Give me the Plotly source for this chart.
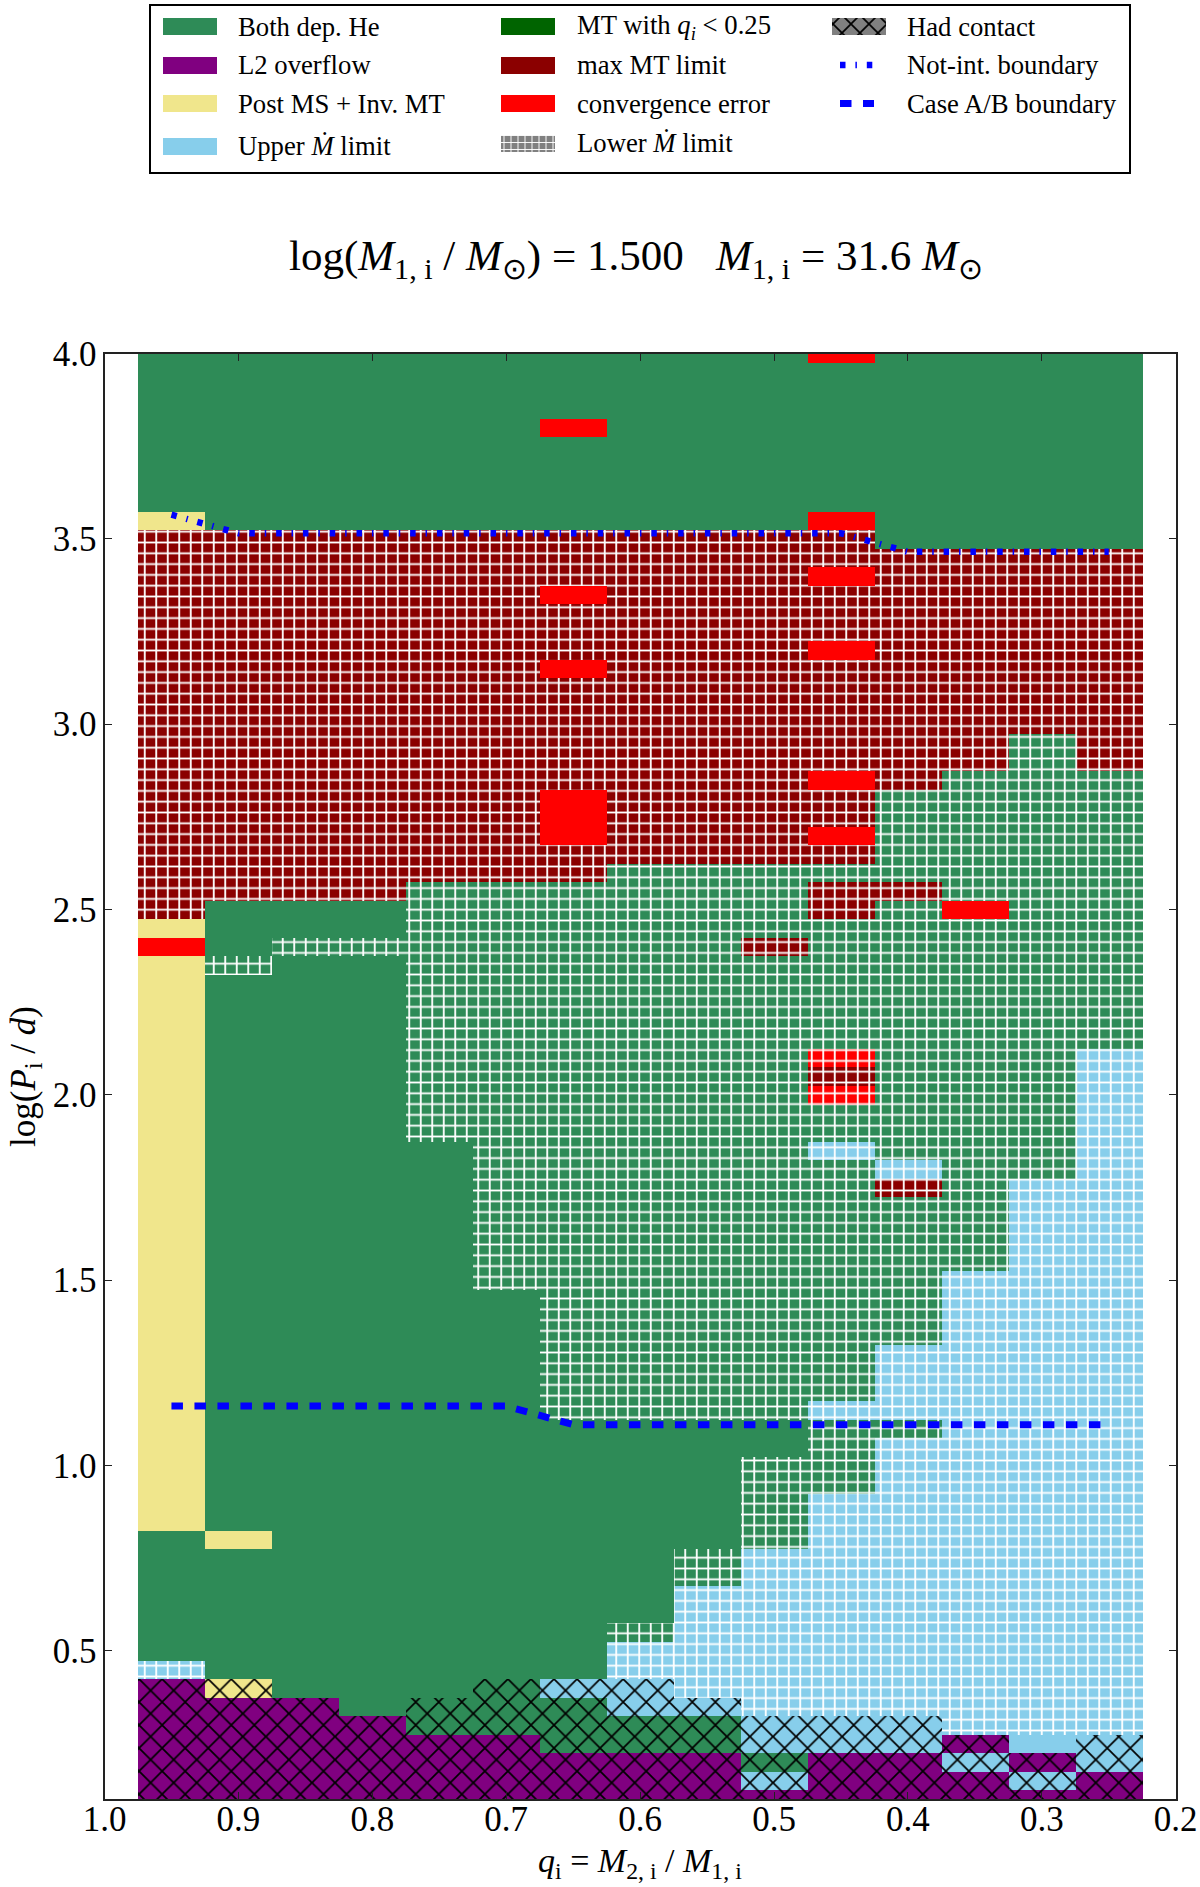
import plotly.graph_objects as go

# ---------- data ----------
Q_VALUES = [0.95, 0.90, 0.85, 0.80, 0.75, 0.70, 0.65, 0.60, 0.55, 0.50, 0.45, 0.40, 0.35, 0.30, 0.25]
LOGP_BOTTOM = 0.1
# each column: (class, upper logP edge). class = colour letter + optional h (fine hatch) / x (contact)
COL_095 = [("Px",0.425),("Bh",0.475),("G",0.825),("Y",2.375),("R",2.425),("Y",2.475),("Mh",3.525),("Y",3.575),("G",4.0)]
COL_090 = [("Px",0.375),("Yx",0.425),("G",0.775),("Y",0.825),("G",2.325),("Gh",2.375),("G",2.525),("Mh",3.525),("G",4.0)]
COL_085 = [("Px",0.375),("G",2.375),("Gh",2.425),("G",2.525),("Mh",3.525),("G",4.0)]
COL_080 = [("Px",0.325),("G",2.375),("Gh",2.425),("G",2.525),("Mh",3.525),("G",4.0)]
COL_075 = [("Px",0.275),("Gx",0.375),("G",1.875),("Gh",2.575),("Mh",3.525),("G",4.0)]
COL_070 = [("Px",0.275),("Gx",0.425),("G",1.475),("Gh",2.575),("Mh",3.525),("G",4.0)]
COL_065 = [("Px",0.225),("Gx",0.375),("Bx",0.425),("G",1.125),("Gh",2.575),("Mh",2.675),("R",2.825),("Mh",3.125),
           ("R",3.175),("Mh",3.325),("R",3.375),("Mh",3.525),("G",3.775),("R",3.825),("G",4.0)]
COL_060 = [("Px",0.225),("Gx",0.325),("Bx",0.425),("Bh",0.525),("Gh",0.575),("G",1.125),("Gh",2.625),("Mh",3.525),("G",4.0)]
COL_055 = [("Px",0.225),("Gx",0.325),("Bx",0.375),("Bh",0.675),("Gh",0.775),("G",1.125),("Gh",2.625),("Mh",3.525),("G",4.0)]
COL_050 = [("Px",0.125),("Bx",0.175),("Gx",0.225),("Bx",0.325),("Bh",0.775),("Gh",1.025),("G",1.125),("Gh",2.375),
           ("Mh",2.425),("Gh",2.625),("Mh",3.525),("G",4.0)]
COL_045 = [("Px",0.225),("Bx",0.325),("Bh",0.925),("Gh",1.125),("Bh",1.175),("Gh",1.825),("Bh",1.875),("Gh",1.975),
           ("Rh",2.025),("Mh",2.075),("Rh",2.125),("Gh",2.475),("Mh",2.575),("Gh",2.625),("Mh",2.675),("R",2.725),
           ("Mh",2.825),("R",2.875),("Mh",3.175),("R",3.225),("Mh",3.375),("R",3.425),("Mh",3.525),("R",3.575),
           ("G",3.975),("R",4.0)]
COL_040 = [("Px",0.225),("Bx",0.325),("Bh",1.075),("Gh",1.125),("Bh",1.325),("Gh",1.725),("Mh",1.775),("Bh",1.825),
           ("Gh",2.525),("Mh",2.575),("Gh",2.825),("Mh",3.475),("G",4.0)]
COL_035 = [("Px",0.175),("Bx",0.225),("Px",0.275),("Bh",1.525),("Gh",2.475),("R",2.525),("Gh",2.875),("Mh",3.475),("G",4.0)]
COL_030 = [("Px",0.125),("Bx",0.175),("Px",0.225),("B",0.275),("Bh",1.775),("Gh",2.975),("Mh",3.475),("G",4.0)]
COL_025 = [("Px",0.175),("Bx",0.275),("Bh",2.125),("Gh",2.875),("Mh",3.475),("G",4.0)]
COLUMNS = [COL_095, COL_090, COL_085, COL_080, COL_075, COL_070, COL_065, COL_060,
           COL_055, COL_050, COL_045, COL_040, COL_035, COL_030, COL_025]

NOT_INT_LOGP = [3.565, 3.515, 3.515, 3.515, 3.515, 3.515, 3.515, 3.515, 3.515, 3.515, 3.515, 3.465, 3.465, 3.465, 3.465]
CASE_AB_LOGP = [1.16, 1.16, 1.16, 1.16, 1.16, 1.16, 1.11, 1.11, 1.11, 1.11, 1.11, 1.11, 1.11, 1.11, 1.11]

X_TICKS = [1.0, 0.9, 0.8, 0.7, 0.6, 0.5, 0.4, 0.3, 0.2]
Y_TICKS = [0.5, 1.0, 1.5, 2.0, 2.5, 3.0, 3.5, 4.0]

COLORS = {"G": "#2E8B57", "P": "#800080", "Y": "#F0E68C", "B": "#87CEEB",
          "D": "#006400", "M": "#8B0000", "R": "#FF0000", "N": "#808080"}
FONT = "Liberation Serif"
W, H = 1200, 1887
CLEAR = "rgba(0,0,0,0)"

fig = go.Figure()
COL_WIDTH = 0.05

# gather cells
cells = {c: ([], [], []) for c in "GPYBMR"}
hatch = ([], [], [])
cross = ([], [], [])
for q, col in zip(Q_VALUES, COLUMNS):
    lo = LOGP_BOTTOM
    for kind, hi in col:
        for store in [cells[kind[0]]] + ([hatch] if kind.endswith("h") else []) + ([cross] if kind.endswith("x") else []):
            store[0].append(q); store[1].append(lo); store[2].append(hi - lo)
        lo = hi

for c, (xs, bs, hs) in cells.items():
    fig.add_trace(go.Bar(x=xs, base=bs, y=hs, width=COL_WIDTH, marker=dict(color=COLORS[c], line=dict(width=0)),
                         showlegend=False, hoverinfo="skip"))
for shape, size, sol in [("-", 10.8, 0.17), ("|", 11.5, 0.16)]:
    fig.add_trace(go.Bar(x=hatch[0], base=hatch[1], y=hatch[2], width=COL_WIDTH,
                         marker=dict(color=CLEAR, line=dict(width=0),
                                     pattern=dict(shape=shape, size=size, solidity=sol, fgcolor="white", fgopacity=1,
                                                  bgcolor=CLEAR, fillmode="overlay")),
                         showlegend=False, hoverinfo="skip"))
fig.add_trace(go.Bar(x=cross[0], base=cross[1], y=cross[2], width=COL_WIDTH,
                     marker=dict(color=CLEAR, line=dict(width=0),
                                 pattern=dict(shape="x", size=16.3, solidity=0.2, fgcolor="black", fgopacity=1,
                                              bgcolor=CLEAR, fillmode="overlay")),
                     showlegend=False, hoverinfo="skip"))

NOT_INT_DASH = "5.5px,9.9px,1.5px,9.9px"
CASE_AB_DASH = "11.5px,11.5px"
fig.add_trace(go.Scatter(x=Q_VALUES, y=NOT_INT_LOGP, mode="lines", line=dict(color="#0000FF", width=6.5, dash=NOT_INT_DASH),
                         showlegend=False, hoverinfo="skip"))
fig.add_trace(go.Scatter(x=Q_VALUES, y=CASE_AB_LOGP, mode="lines", line=dict(color="#0000FF", width=7, dash=CASE_AB_DASH),
                         showlegend=False, hoverinfo="skip"))

# ---------- legend panel (own axes in page pixels) ----------
LEG_X0, LEG_X1, LEG_Y0, LEG_Y1 = 150.5, 1129, 6, 172
SW_W, SW_H = 54, 17
SWATCH_X = [189, 527.5, 858.5]
TEXT_X = [236, 574.5, 905]
LEG_LINE_X = [840, 874]
LEG_SIZE = 26.7
ROW_Y = [26.5, 65, 103.5, 146, 143]
M = "<i>M</i>"
MDOT = "<i>M\u0307</i>"
LEG_ITEMS = [
    (0, ROW_Y[0], "G", "Both dep. He"), (0, ROW_Y[1], "P", "L2 overflow"),
    (0, ROW_Y[2], "Y", "Post MS + Inv. MT"), (0, ROW_Y[3], "B", f"Upper {MDOT} limit"),
    (1, ROW_Y[0], "D", "MT with <i>q<sub>i</sub></i> &lt; 0.25"), (1, ROW_Y[1], "M", "max MT limit"),
    (1, ROW_Y[2], "R", "convergence error"),
]
for col, y, c, label in LEG_ITEMS:
    fig.add_trace(go.Bar(x=[SWATCH_X[col]], base=[y - SW_H / 2], y=[SW_H], width=SW_W, xaxis="x2", yaxis="y2",
                         marker=dict(color=COLORS[c], line=dict(width=0)), showlegend=False, hoverinfo="skip"))
    fig.add_annotation(x=TEXT_X[col], y=y, xref="x2", yref="y2", text=label, showarrow=False, xanchor="left",
                       font=dict(family=FONT, size=LEG_SIZE, color="black"))
fig.add_trace(go.Bar(x=[SWATCH_X[1]], base=[ROW_Y[4] - SW_H / 2], y=[SW_H], width=SW_W, xaxis="x2", yaxis="y2",
                     marker=dict(color=COLORS["N"], line=dict(width=0),
                                 pattern=dict(shape="+", size=7, solidity=0.25, fgcolor="white", fgopacity=1,
                                              bgcolor=COLORS["N"], fillmode="overlay")),
                     showlegend=False, hoverinfo="skip"))
fig.add_annotation(x=TEXT_X[1], y=ROW_Y[4], xref="x2", yref="y2", text=f"Lower {MDOT} limit", showarrow=False, xanchor="left",
                   font=dict(family=FONT, size=LEG_SIZE, color="black"))
fig.add_trace(go.Bar(x=[SWATCH_X[2]], base=[ROW_Y[0] - SW_H / 2], y=[SW_H], width=SW_W, xaxis="x2", yaxis="y2",
                     marker=dict(color=COLORS["N"], line=dict(width=0),
                                 pattern=dict(shape="x", size=12.7, solidity=0.25, fgcolor="black", fgopacity=1,
                                              bgcolor=COLORS["N"], fillmode="overlay")),
                     showlegend=False, hoverinfo="skip"))
fig.add_annotation(x=TEXT_X[2], y=ROW_Y[0], xref="x2", yref="y2", text="Had contact", showarrow=False, xanchor="left",
                   font=dict(family=FONT, size=LEG_SIZE, color="black"))
for y, dash, label, lw in [(ROW_Y[1], NOT_INT_DASH, "Not-int. boundary", 6.5), (ROW_Y[2], CASE_AB_DASH, "Case A/B boundary", 7)]:
    fig.add_trace(go.Scatter(x=LEG_LINE_X, y=[y, y], mode="lines", xaxis="x2", yaxis="y2",
                             line=dict(color="#0000FF", width=lw, dash=dash), showlegend=False, hoverinfo="skip"))
    fig.add_annotation(x=TEXT_X[2], y=y, xref="x2", yref="y2", text=label, showarrow=False, xanchor="left",
                       font=dict(family=FONT, size=LEG_SIZE, color="black"))

# ---------- text outside the panels ----------
TITLE = (f"log({M}<sub>1, i</sub> / {M}<sub>\u2299</sub>) = 1.500 &#160;&#160;{M}<sub>1, i</sub> = 31.6 {M}<sub>\u2299</sub>")
fig.add_annotation(x=636 / W, y=1 - 259 / H, xref="paper", yref="paper", text=TITLE, showarrow=False,
                   xanchor="center", yanchor="middle", font=dict(family=FONT, size=43, color="black"))
fig.add_annotation(x=640 / W, y=1 - 1863 / H, xref="paper", yref="paper", showarrow=False,
                   xanchor="center", yanchor="middle",
                   text=f"<i>q</i><sub>i</sub> = {M}<sub>2, i</sub> / {M}<sub>1, i</sub>",
                   font=dict(family=FONT, size=34, color="black"))
fig.add_annotation(x=25 / W, y=1 - 1077 / H, xref="paper", yref="paper", showarrow=False, textangle=-90,
                   xanchor="center", yanchor="middle",
                   text="log(<i>P</i><sub>i</sub> / <i>d</i>)", font=dict(family=FONT, size=35, color="black"))

axis_common = dict(showgrid=False, zeroline=False, showline=True, linecolor="#222222", linewidth=2,
                   mirror="ticks", ticks="inside", ticklen=7, tickwidth=1.2, tickcolor="#222222",
                   tickfont=dict(family=FONT, size=35, color="black"))
fig.update_layout(
    width=W, height=H, margin=dict(l=0, r=0, t=0, b=0, autoexpand=False), paper_bgcolor="white", plot_bgcolor="white",
    barmode="overlay", bargap=0, showlegend=False,
    xaxis=dict(domain=[104.5 / W, 1175.7 / W], range=[1.0, 0.2], tickmode="array", tickvals=X_TICKS,
               ticktext=[f"{v:.1f}" for v in X_TICKS], automargin=False, ticklabelstandoff=-12, **axis_common),
    yaxis=dict(domain=[1 - 1799 / H, 1 - 353.5 / H], range=[0.1, 4.0], tickmode="array", tickvals=Y_TICKS,
               ticktext=[f"{v:.1f}" for v in Y_TICKS], automargin=False, ticklabelstandoff=-1, **axis_common),
    xaxis2=dict(domain=[LEG_X0 / W, LEG_X1 / W], range=[LEG_X0, LEG_X1], anchor="y2", showticklabels=False, ticks="",
                showgrid=False, zeroline=False, showline=True, mirror=True, linecolor="black", linewidth=2),
    yaxis2=dict(domain=[1 - LEG_Y1 / H, 1 - LEG_Y0 / H], range=[LEG_Y1, LEG_Y0], anchor="x2", showticklabels=False, ticks="",
                showgrid=False, zeroline=False, showline=True, mirror=True, linecolor="black", linewidth=2),
)
fig.write_html("out.html", config={"displayModeBar": False},
               post_script="document.body.style.margin='0';document.documentElement.style.overflow='hidden';")
